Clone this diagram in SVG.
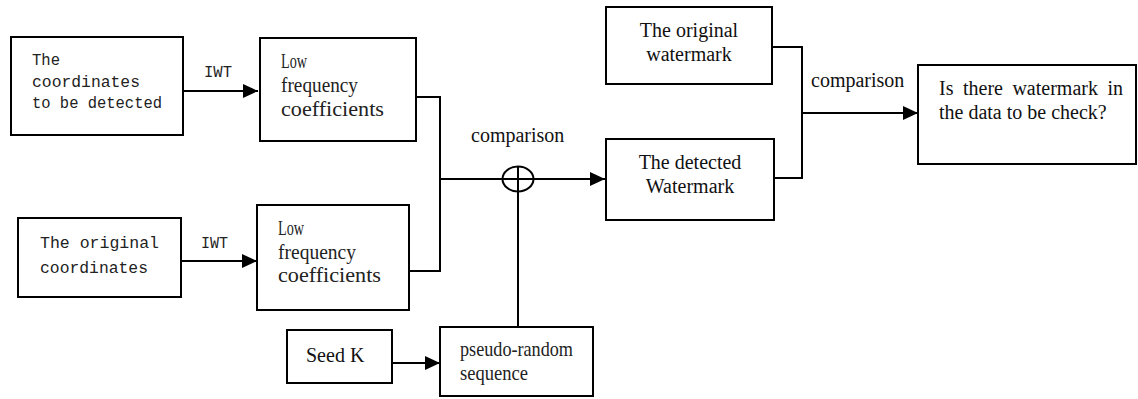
<svg xmlns="http://www.w3.org/2000/svg" width="1138" height="399" viewBox="0 0 1138 399">
<style>
.box{fill:#fff;stroke:#000;stroke-width:2}
.ln{fill:none;stroke:#000;stroke-width:2}
.mono{font-family:"Liberation Mono","DejaVu Sans Mono",monospace;font-size:16px;fill:#222}
.ser{font-family:"Liberation Serif","Times New Roman",serif;font-size:20px;fill:#111}
.cond{font-family:"Liberation Serif","Times New Roman",serif;font-size:21px;fill:#222}
</style>
<defs>
<marker id="arr" markerWidth="16" markerHeight="14" refX="15" refY="7" orient="auto" markerUnits="userSpaceOnUse">
<path d="M0,0 L15,7 L0,14 Z" fill="#000"/>
</marker>
</defs>
<rect width="1138" height="399" fill="#fff"/>
<g id="connectors">
<line class="ln" x1="183" y1="91" x2="258" y2="91" marker-end="url(#arr)"/>
<line class="ln" x1="181" y1="261" x2="257" y2="261" marker-end="url(#arr)"/>
<polyline class="ln" points="416,97 440,97 440,271 409,271"/>
<line class="ln" x1="440" y1="179" x2="605" y2="179" marker-end="url(#arr)"/>
<line class="ln" x1="518" y1="166" x2="518" y2="327"/>
<line class="ln" x1="392" y1="363" x2="440" y2="363" marker-end="url(#arr)"/>
<polyline class="ln" points="772,47 802,47 802,178 774,178"/>
<line class="ln" x1="802" y1="113" x2="918" y2="113" marker-end="url(#arr)"/>
<ellipse class="ln" cx="518" cy="179" rx="15.5" ry="12.5"/>
<text class="mono" x="204" y="77" textLength="28" lengthAdjust="spacingAndGlyphs">IWT</text>
<text class="mono" x="201" y="248" textLength="27" lengthAdjust="spacingAndGlyphs">IWT</text>
<text class="ser" x="471" y="142">comparison</text>
<text class="ser" x="811" y="87">comparison</text>
</g>
<g id="n_detect">
<rect class="box" x="11" y="37" width="172" height="98"/>
<text class="mono" x="32" y="65" textLength="28" lengthAdjust="spacingAndGlyphs">The</text>
<text class="mono" x="32" y="87" textLength="108" lengthAdjust="spacingAndGlyphs">coordinates</text>
<text class="mono" x="32" y="108" textLength="130" lengthAdjust="spacingAndGlyphs">to be detected</text>
</g>
<g id="n_low1">
<rect class="box" x="260" y="38" width="156" height="103"/>
<text class="cond" x="281" y="68" textLength="26" lengthAdjust="spacingAndGlyphs">Low</text>
<text class="cond" x="281" y="92" textLength="77" lengthAdjust="spacingAndGlyphs">frequency</text>
<text class="cond" x="281" y="116" textLength="103" lengthAdjust="spacingAndGlyphs">coefficients</text>
</g>
<g id="n_orig">
<rect class="box" x="18" y="218" width="163" height="79"/>
<text class="mono" x="40" y="248" textLength="119" lengthAdjust="spacingAndGlyphs">The original</text>
<text class="mono" x="40" y="273" textLength="108" lengthAdjust="spacingAndGlyphs">coordinates</text>
</g>
<g id="n_low2">
<rect class="box" x="257" y="205" width="152" height="105"/>
<text class="cond" x="278" y="235" textLength="26" lengthAdjust="spacingAndGlyphs">Low</text>
<text class="cond" x="278" y="259" textLength="78" lengthAdjust="spacingAndGlyphs">frequency</text>
<text class="cond" x="278" y="282" textLength="103" lengthAdjust="spacingAndGlyphs">coefficients</text>
</g>
<g id="n_seed">
<rect class="box" x="287" y="330" width="105" height="53"/>
<text class="ser" x="306" y="362">Seed K</text>
</g>
<g id="n_pseudo">
<rect class="box" x="440" y="327" width="153" height="69"/>
<text class="cond" x="460" y="356" textLength="113" lengthAdjust="spacingAndGlyphs">pseudo-random</text>
<text class="cond" x="460" y="380" textLength="68" lengthAdjust="spacingAndGlyphs">sequence</text>
</g>
<g id="n_origwm">
<rect class="box" x="606" y="7" width="166" height="77"/>
<text class="ser" x="689" y="37" text-anchor="middle">The original</text>
<text class="ser" x="689" y="61" text-anchor="middle">watermark</text>
</g>
<g id="n_detwm">
<rect class="box" x="606" y="139" width="168" height="81"/>
<text class="ser" x="690" y="169" text-anchor="middle">The detected</text>
<text class="ser" x="690" y="193" text-anchor="middle">Watermark</text>
</g>
<g id="n_result">
<rect class="box" x="918" y="65" width="218" height="99"/>
<text class="ser" x="939" y="95" word-spacing="4.5">Is there watermark in</text>
<text class="ser" x="939" y="119">the data to be check?</text>
</g>
</svg>
